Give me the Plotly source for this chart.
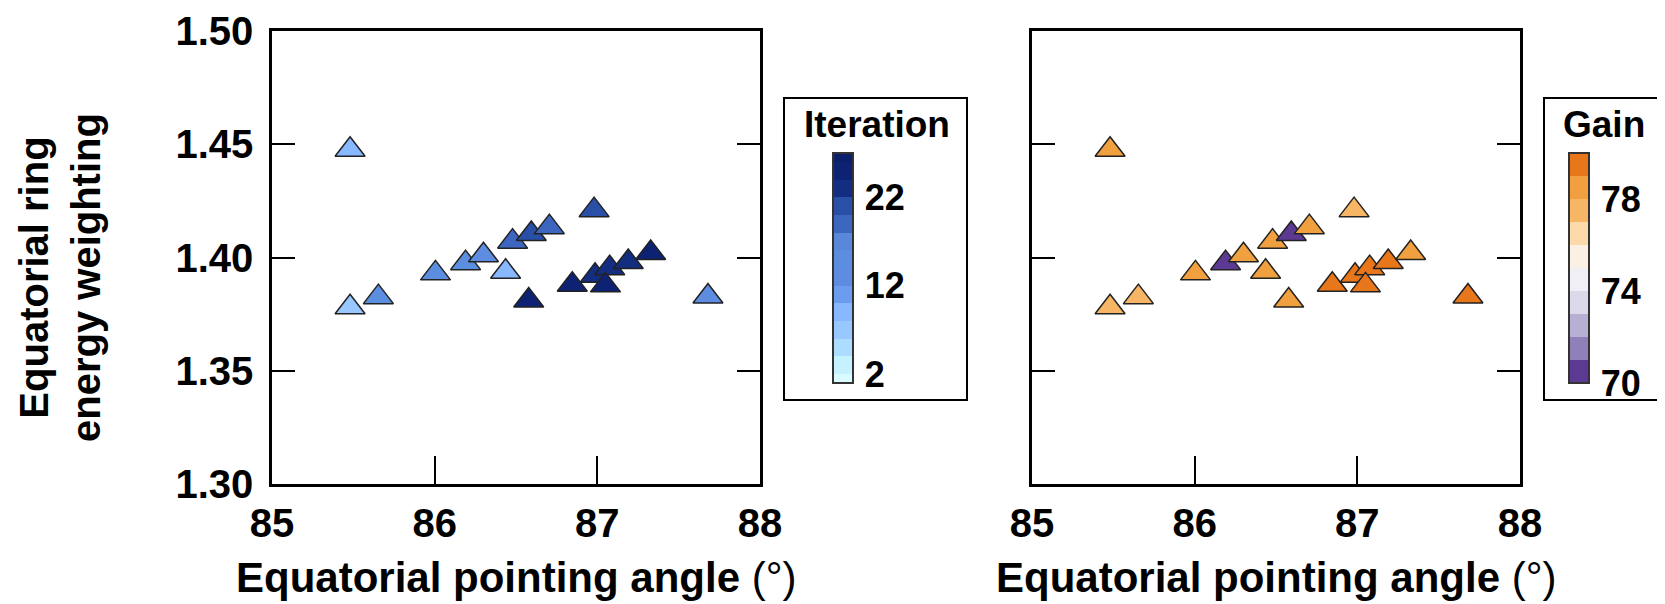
import plotly.graph_objects as go

# ---------------- data ----------------
angle = [85.48, 85.48, 85.654, 86.005, 86.19, 86.30, 86.436, 86.479, 86.594, 86.705,
         86.98, 86.578, 86.846, 86.986, 87.076, 87.05, 87.19, 87.328, 87.68]
weighting = [1.4476, 1.378, 1.3825, 1.393, 1.3975, 1.401, 1.3937, 1.407, 1.4104, 1.4134,
             1.4209, 1.381, 1.388, 1.3919, 1.3953, 1.3877, 1.398, 1.402, 1.3828]
iteration = [9, 7, 15, 15, 15, 13, 9, 19, 21, 19,
             21, 25, 25, 23, 23, 25, 23, 25, 13]
gain = [78.5, 77.5, 77.3, 78.5, 70.5, 78.5, 78.5, 78.5, 70.5, 78.6,
        77.8, 78.2, 79.6, 79.2, 79.2, 79.0, 79.5, 78.9, 79.7]

x_ticks = [85, 86, 87, 88]
y_ticks = [1.30, 1.35, 1.40, 1.45, 1.50]
y_ticklabels = ["1.30", "1.35", "1.40", "1.45", "1.50"]
iter_ticks = [2, 12, 22]
gain_ticks = [70, 74, 78]

# discrete colour bands (bottom -> top)
iter_bounds = [1, 2, 4, 6, 8, 10, 12, 14, 16, 18, 20, 22, 24, 26, 27]
iter_colors = ["#d8fcff", "#c6f2ff", "#acdcff", "#98c8ff", "#88b8ff", "#6c9cee",
               "#5d8ce0", "#5c8edf", "#5a88d8", "#3c66c0", "#2a4fa6", "#132d80", "#0d2272", "#0b1e6a"]
gain_bounds = [70, 71, 72, 73, 74, 75, 76, 77, 78, 79, 80]
gain_colors = ["#5c3a94", "#8f80ba", "#b8b0d4", "#dcdaea", "#f0eff5",
               "#faf0e4", "#fcd9a8", "#f6b666", "#f0a03e", "#e8761a"]


def band_scale(bounds, colors):
    lo, hi = bounds[0], bounds[-1]
    scale = []
    for i, c in enumerate(colors):
        a = (bounds[i] - lo) / (hi - lo)
        b = (bounds[i + 1] - lo) / (hi - lo)
        scale.append([a, c])
        scale.append([b, c])
    return scale


# the page body has an 8px margin: figure spans screen pixels 8..1665 x 8..604
OFF = 8
W, H = 1665 - OFF, 604 - OFF
FONT = "Liberation Sans, Arial, Helvetica, sans-serif"


def px_x(p):
    return (p - OFF) / W


def px_y(p):
    return 1 - (p - OFF) / H


fig = go.Figure()

cb_tickfont = dict(family=FONT, size=36, color="black", weight="bold")

fig.add_trace(go.Scatter(
    x=angle, y=weighting, mode="markers", xaxis="x", yaxis="y",
    marker=dict(
        symbol="triangle-up", size=26,
        color=iteration, cmin=iter_bounds[0], cmax=iter_bounds[-1],
        colorscale=band_scale(iter_bounds, iter_colors),
        line=dict(color="#222222", width=1.5),
        colorbar=dict(
            x=px_x(833), xanchor="left", xpad=0,
            y=px_y(268), yanchor="middle", ypad=0,
            lenmode="pixels", len=230, thicknessmode="pixels", thickness=20,
            outlinewidth=2, outlinecolor="#333333",
            tickvals=iter_ticks, ticks="outside", ticklen=4, tickcolor="rgba(0,0,0,0)",
            tickfont=cb_tickfont,
        ),
    ),
    showlegend=False,
))

fig.add_trace(go.Scatter(
    x=angle, y=weighting, mode="markers", xaxis="x2", yaxis="y2",
    marker=dict(
        symbol="triangle-up", size=26,
        color=gain, cmin=gain_bounds[0], cmax=gain_bounds[-1],
        colorscale=band_scale(gain_bounds, gain_colors),
        line=dict(color="#222222", width=1.5),
        colorbar=dict(
            x=px_x(1569), xanchor="left", xpad=0,
            y=px_y(268), yanchor="middle", ypad=0,
            lenmode="pixels", len=230, thicknessmode="pixels", thickness=20,
            outlinewidth=2, outlinecolor="#333333",
            tickvals=gain_ticks, ticks="outside", ticklen=4, tickcolor="rgba(0,0,0,0)",
            tickfont=cb_tickfont,
        ),
    ),
    showlegend=False,
))

tickfont = dict(family=FONT, size=40, color="black", weight="bold")
common_x = dict(range=[85, 88], tickvals=x_ticks, ticks="inside", ticklen=28, tickwidth=2,
                tickcolor="black", showline=True, linecolor="black", linewidth=2.5,
                mirror=True, showgrid=False, zeroline=False, tickfont=tickfont,
                ticklabelstandoff=2)
common_y = dict(range=[1.30, 1.50], tickvals=y_ticks, ticktext=y_ticklabels,
                ticks="inside", ticklen=23, tickwidth=2, tickcolor="black",
                showline=True, linecolor="black", linewidth=2.5, mirror="ticks",
                showgrid=False, zeroline=False, tickfont=tickfont)

ydom = [px_y(484), px_y(31)]
fig.update_layout(
    width=W, height=H, autosize=False,
    margin=dict(l=0, r=0, t=0, b=0, autoexpand=False),
    paper_bgcolor="white", plot_bgcolor="white",
    font=dict(family=FONT, color="black"),
    xaxis=dict(domain=[px_x(272), px_x(760)], anchor="y", **common_x),
    yaxis=dict(domain=ydom, anchor="x", ticklabelstandoff=8, **common_y),
    xaxis2=dict(domain=[px_x(1032), px_x(1520)], anchor="y2", **common_x),
    yaxis2=dict(domain=ydom, anchor="x2", showticklabels=False, **common_y),
)

# legend boxes
for x0, x1 in [(784, 967), (1544, 1658)]:
    fig.add_shape(type="rect", xref="paper", yref="paper",
                  x0=px_x(x0), x1=px_x(x1), y0=px_y(400), y1=px_y(98),
                  line=dict(color="black", width=2), fillcolor="rgba(0,0,0,0)")

title_font = dict(family=FONT, size=37, color="black", weight="bold")
fig.add_annotation(text="Iteration", xref="paper", yref="paper", x=px_x(877), y=px_y(125),
                   xanchor="center", yanchor="middle", showarrow=False, font=title_font)
fig.add_annotation(text="Gain", xref="paper", yref="paper", x=px_x(1604), y=px_y(125),
                   xanchor="center", yanchor="middle", showarrow=False, font=title_font)

xt_font = dict(family=FONT, size=42, color="black")
for cx in [516, 1276]:
    fig.add_annotation(text="<b>Equatorial pointing angle</b> (°)", xref="paper", yref="paper",
                       x=px_x(cx), y=px_y(577), xanchor="center", yanchor="middle",
                       showarrow=False, font=xt_font)

fig.add_annotation(text="<b>Equatorial ring<br>energy weighting</b>", xref="paper", yref="paper",
                   x=px_x(60), y=px_y(278), xanchor="center", yanchor="middle", textangle=-90,
                   showarrow=False, font=dict(family=FONT, size=40, color="black"))

fig.write_html("out.html")
